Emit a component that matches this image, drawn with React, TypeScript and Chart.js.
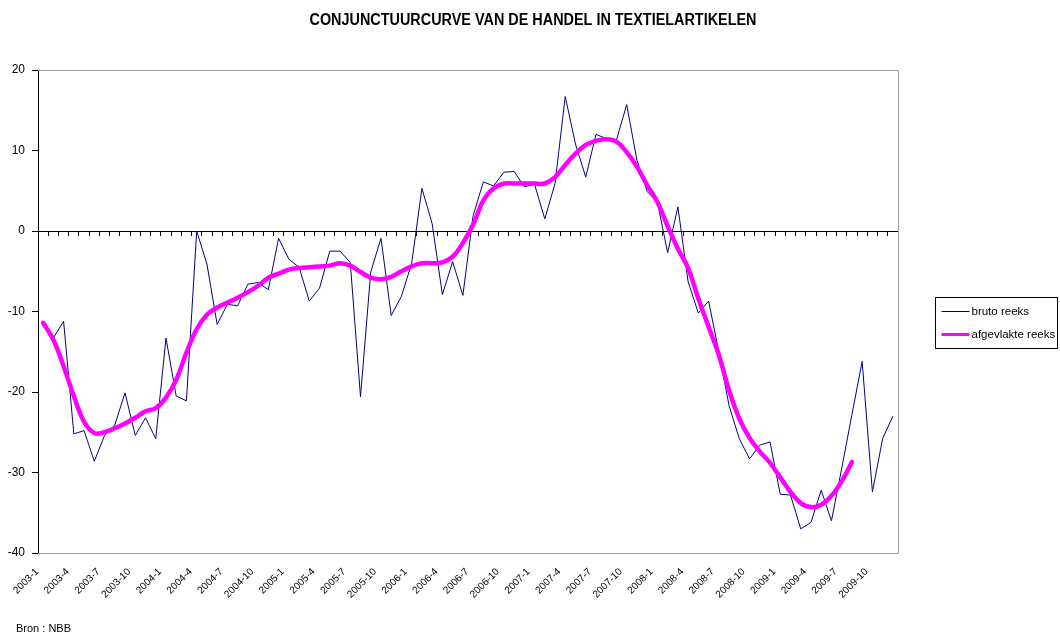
import React, { useEffect, useRef } from 'react';
import { Chart, registerables } from 'chart.js';

Chart.register(...registerables);

const TITLE = 'CONJUNCTUURCURVE VAN DE HANDEL IN TEXTIELARTIKELEN';
const SOURCE = 'Bron : NBB';

const YEARS = [2003, 2004, 2005, 2006, 2007, 2008, 2009];
const MONTHS = [1, 2, 3, 4, 5, 6, 7, 8, 9, 10, 11, 12];
const CATEGORIES = YEARS.flatMap((y) => MONTHS.map((m) => `${y}-${m}`));

const SERIES_NAMES = ['bruto reeks', 'afgevlakte reeks'];
const SERIES_COLORS = ['#000080', '#FF00FF'];

const BRUTO = [
  -11.6, -13.3, -11.2, -25.2, -24.8, -28.6, -25.4, -24.1, -20.1, -25.4, -23.2, -25.8,
  -13.3, -20.5, -21.1, 0.0, -4.1, -11.6, -9.1, -9.3, -6.6, -6.4, -7.3, -0.9,
  -3.5, -4.5, -8.7, -7.1, -2.5, -2.5, -3.9, -20.6, -5.1, -0.9, -10.5, -8.1,
  -4.0, 5.3, 0.9, -7.9, -3.8, -8.0, 1.9, 6.1, 5.6, 7.3, 7.4, 5.5,
  5.8, 1.5, 5.9, 16.7, 10.8, 6.7, 12.0, 11.5, 11.3, 15.7, 8.8, 4.9,
  3.6, -2.7, 3.0, -6.3, -10.2, -8.7, -15.0, -21.7, -25.8, -28.3, -26.6, -26.2,
  -32.7, -32.8, -37.0, -36.2, -32.2, -36.0, -29.5, -22.8, -16.2, -32.4, -25.8, -23.0,
];

const AFGEVLAKT = [
  -11.4, -13.5, -16.8, -20.5, -23.7, -25.1, -25.0, -24.5, -23.9, -23.2, -22.4, -22.0,
  -20.7, -18.5, -15.1, -12.2, -10.4, -9.5, -8.9, -8.3, -7.6, -6.8, -5.8, -5.3,
  -4.8, -4.6, -4.5, -4.4, -4.3, -4.0, -4.3, -5.1, -5.8, -6.0, -5.7, -5.0,
  -4.4, -4.0, -4.0, -3.9, -3.2, -1.5, 0.8, 3.8, 5.3, 5.9, 5.9, 5.9,
  5.9, 5.9, 6.7, 8.2, 9.6, 10.7, 11.2, 11.4, 11.1, 9.8, 8.0, 5.7,
  3.6, 0.6, -2.2, -4.6, -8.4, -11.9, -15.4, -19.8, -23.3, -25.7, -27.4, -28.8,
  -30.6, -32.4, -33.8, -34.3, -34.0, -32.9, -31.1, -28.7, null, null, null, null,
];

const Y_MIN = -40;
const Y_MAX = 20;
const Y_STEP = 10;

const FONT = '"Liberation Sans", Arial, sans-serif';

const decorPlugin = {
  id: 'decor',
  beforeDatasetsDraw(chart: any) {
    const { ctx, chartArea: a } = chart;
    ctx.save();
    ctx.strokeStyle = '#a0a0a0';
    ctx.lineWidth = 1;
    ctx.beginPath();
    ctx.moveTo(a.left, Math.round(a.top) + 0.5);
    ctx.lineTo(Math.round(a.right) + 0.5, Math.round(a.top) + 0.5);
    ctx.lineTo(Math.round(a.right) + 0.5, Math.round(a.bottom) + 0.5);
    ctx.lineTo(a.left, Math.round(a.bottom) + 0.5);
    ctx.stroke();
    ctx.restore();
  },
  afterDraw(chart: any) {
    const { ctx, chartArea: a } = chart;
    ctx.save();
    // Title
    ctx.fillStyle = '#000';
    ctx.font = `bold 16px ${FONT}`;
    ctx.textAlign = 'center';
    ctx.textBaseline = 'middle';
    const w = ctx.measureText(TITLE).width;
    const targetW = 447;
    ctx.translate(533, 21);
    ctx.scale(targetW / w, 1);
    ctx.fillText(TITLE, 0, 0);
    ctx.setTransform(1, 0, 0, 1, 0, 0);

    // Legend
    const lx = Math.round(a.right) + 37.5;
    const ly = 297.5;
    const lw = 122;
    const lh = 51;
    ctx.strokeStyle = '#000';
    ctx.lineWidth = 1;
    ctx.strokeRect(lx, ly, lw, lh);
    ctx.font = `11.5px ${FONT}`;
    ctx.textAlign = 'left';
    ctx.textBaseline = 'middle';
    chart.data.datasets
      .slice()
      .sort((d1: any, d2: any) => d1.legendIndex - d2.legendIndex)
      .forEach((ds: any, i: number) => {
        const y = ly + 14 + i * 23;
        ctx.strokeStyle = ds.borderColor;
        ctx.lineWidth = i === 0 ? 1 : 3;
        ctx.beginPath();
        ctx.moveTo(lx + 6, y);
        ctx.lineTo(lx + 34, y);
        ctx.stroke();
        ctx.fillStyle = '#000';
        ctx.fillText(ds.label, lx + 36, y);
      });

    // Source
    ctx.font = `11px ${FONT}`;
    ctx.textAlign = 'left';
    ctx.fillStyle = '#000';
    ctx.fillText(SOURCE, 16, 629);
    ctx.restore();
  },
};

export default function App() {
  const canvasRef = useRef<HTMLCanvasElement | null>(null);

  useEffect(() => {
    const canvas = canvasRef.current;
    if (!canvas) return;
    const chart = new Chart(canvas, {
      type: 'line',
      data: {
        labels: CATEGORIES,
        datasets: [
          {
            label: SERIES_NAMES[1],
            data: AFGEVLAKT,
            borderColor: SERIES_COLORS[1],
            backgroundColor: SERIES_COLORS[1],
            borderWidth: 4.5,
            pointRadius: 0,
            tension: 0.4,
            borderCapStyle: 'round',
            borderJoinStyle: 'round',
            spanGaps: false,
            legendIndex: 1,
          } as any,
          {
            label: SERIES_NAMES[0],
            data: BRUTO,
            borderColor: SERIES_COLORS[0],
            backgroundColor: SERIES_COLORS[0],
            borderWidth: 1,
            pointRadius: 0,
            tension: 0,
            legendIndex: 0,
          } as any,
        ],
      },
      options: {
        responsive: false,
        animation: false,
        devicePixelRatio: 1,
        layout: { padding: { top: 70, left: 0, right: 162, bottom: 0 } },
        plugins: {
          legend: { display: false },
          title: { display: false },
          tooltip: { enabled: false },
        },
        scales: {
          x: {
            type: 'category',
            position: 'bottom',
            offset: true,
            grid: { display: false },
            border: { display: false },
            ticks: {
              autoSkip: false,
              maxRotation: 45,
              minRotation: 45,
              padding: 5,
              labelOffset: -6,
              color: '#000',
              font: { family: FONT, size: 10 },
              callback: (_v: any, idx: number) => (idx % 3 === 0 ? CATEGORIES[idx] : ''),
            },
            afterFit: (s: any) => {
              s.height = 81;
            },
          },
          x2: {
            type: 'category',
            axis: 'x',
            position: { y: 0 },
            offset: true,
            grid: {
              display: true,
              offset: true,
              drawOnChartArea: false,
              drawTicks: true,
              tickLength: 4,
              color: '#000',
              lineWidth: 1,
            },
            border: { display: true, color: '#000', width: 1 },
            ticks: { display: false, autoSkip: false },
          } as any,
          y: {
            type: 'linear',
            min: Y_MIN,
            max: Y_MAX,
            grid: {
              display: true,
              drawOnChartArea: false,
              drawTicks: true,
              tickLength: 6,
              color: '#000',
            },
            border: { display: true, color: '#000', width: 1 },
            ticks: {
              stepSize: Y_STEP,
              padding: 7,
              color: '#000',
              font: { family: FONT, size: 12 },
            },
            afterFit: (s: any) => {
              s.width = 38;
            },
          },
        },
      },
      plugins: [decorPlugin],
    });
    return () => chart.destroy();
  }, []);

  return (
    <div style={{ position: 'fixed', left: 0, top: 0, width: 1060, height: 634, background: '#fff' }}>
      <canvas ref={canvasRef} width={1060} height={634} style={{ display: 'block' }} />
    </div>
  );
}
